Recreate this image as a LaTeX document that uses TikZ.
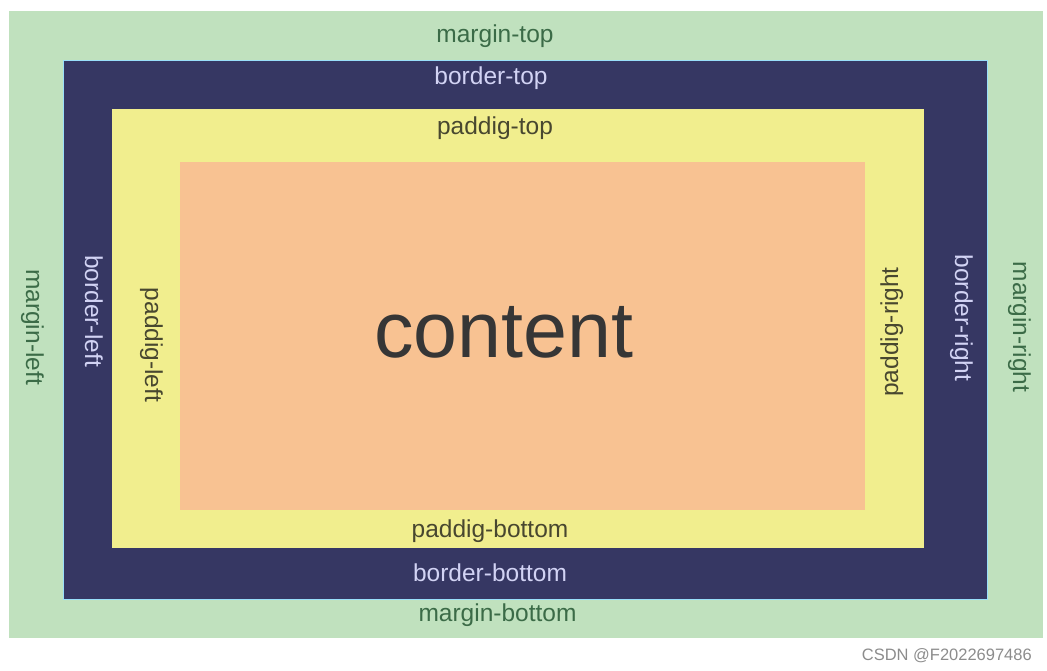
\documentclass[tikz,border=0pt]{standalone}
\usepackage{fontspec}
\setmainfont{Liberation Sans}
\usepackage{tikz}
\usetikzlibrary{positioning}
\usepackage{xcolor}

\definecolor{margincol}{HTML}{C0E1BE}
\definecolor{bordercol}{HTML}{363763}
\definecolor{paddingcol}{HTML}{F1EE8E}
\definecolor{contentcol}{HTML}{F8C292}
\definecolor{margintxt}{HTML}{3B6B47}
\definecolor{bordertxt}{HTML}{D2D3F4}
\definecolor{paddingtxt}{HTML}{48472F}
\definecolor{contenttxt}{HTML}{363636}

\tikzset{
  lbl/.style={inner sep=0pt, anchor=base, font=\fontsize{24.5}{29}\selectfont},
  mlbl/.style={lbl, text=margintxt},
  blbl/.style={lbl, text=bordertxt},
  plbl/.style={lbl, text=paddingtxt}
}

\begin{document}
\begin{tikzpicture}[x=1pt,y=-1pt]
\useasboundingbox (0,0) rectangle (1047,671);
% Boxes
\fill[margincol] (9,11) rectangle (1043,638);
\fill[bordercol] (63,60) rectangle (987,599);
\draw[cyan!40!white, line width=0.8pt] (63,60) rectangle (987,599);
\fill[paddingcol] (112,109) rectangle (924,548);
\fill[contentcol] (180,162) rectangle (865,510);
% Margin labels
\node[mlbl] (mtop) at (495,43) {margin-top};
\node[mlbl] (mbottom) at (497.5,621) {margin-bottom};
\node[mlbl, rotate=-90] (mleft) at (26,327) {margin-left};
\node[mlbl, rotate=-90] (mright) at (1013,327) {margin-right};
% Border labels
\node[blbl] (btop) at (491,85) {border-top};
\node[blbl] (bbottom) at (490,581) {border-bottom};
\node[blbl, rotate=-90] (bleft) at (85,311) {border-left};
\node[blbl, rotate=-90] (bright) at (955,318) {border-right};
% Padding labels
\node[plbl] (ptop) at (495,135) {paddig-top};
\node[plbl] (pbottom) at (490,537) {paddig-bottom};
\node[plbl, rotate=-90] (pleft) at (145,345) {paddig-left};
\node[plbl, rotate=90] (pright) at (898,332) {paddig-right};
% Content
\node[lbl, text=contenttxt, font=\fontsize{79}{90}\selectfont] (content) at (504,357) {content};
% Watermark
\node[inner sep=0pt, anchor=base east, text=black!45, font=\fontsize{16.5}{20}\selectfont] (mark) at (1032,660) {CSDN @F2022697486};
\end{tikzpicture}
\end{document}
